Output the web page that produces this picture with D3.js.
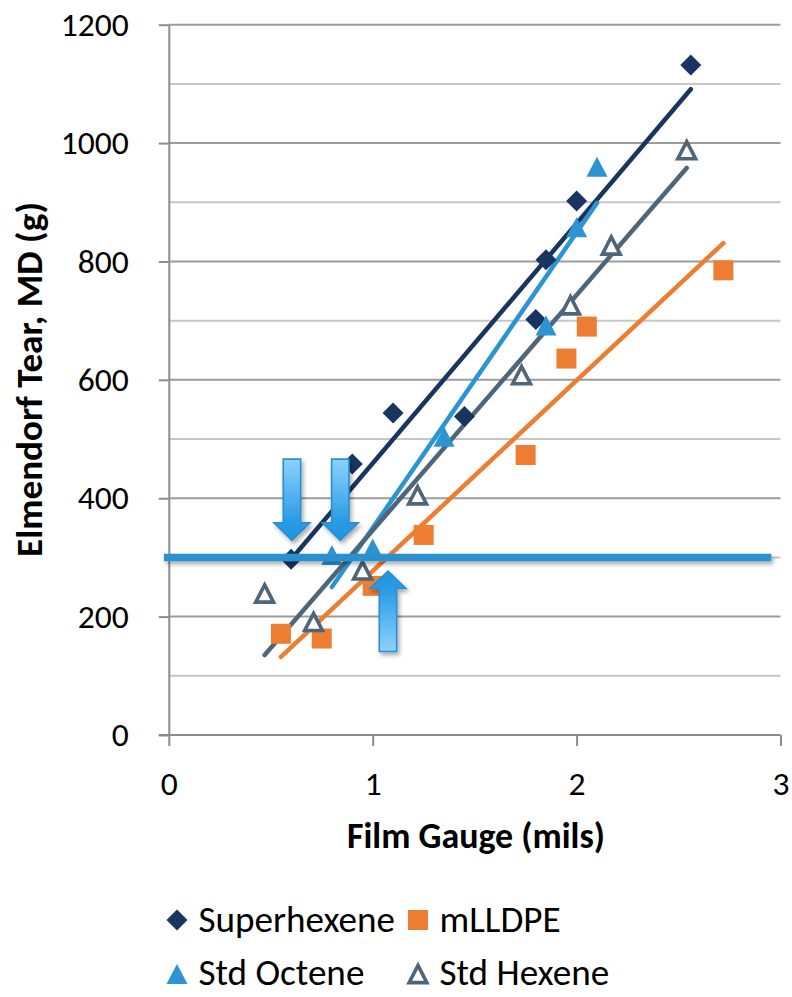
<!DOCTYPE html>
<html><head><meta charset="utf-8">
<script src="https://cdn.jsdelivr.net/npm/d3@7"></script>
<style>body{margin:0;background:#fff} svg{display:block}</style>
</head><body>
<svg id="c" width="792" height="997"></svg>
<script>
// ---------- data ----------
const xTicks = [0, 1, 2, 3];
const yTicks = [0, 200, 400, 600, 800, 1000, 1200];
const yGrid = [100, 200, 300, 400, 500, 600, 700, 800, 900, 1000, 1100, 1200];
const seriesNames = ["Superhexene", "mLLDPE", "Std Octene", "Std Hexene"];

const superX = [0.60, 0.90, 1.10, 1.45, 1.80, 1.85, 2.00, 2.56];
const superY = [297, 458, 544, 538, 702, 803, 902, 1132];
const mlldpeX = [0.55, 0.75, 1.00, 1.25, 1.75, 1.95, 2.05, 2.72];
const mlldpeY = [171, 163, 252, 338, 473, 636, 690, 785];
const octeneX = [0.80, 1.00, 1.35, 1.85, 2.00, 2.10];
const octeneY = [304, 315, 504, 692, 858, 960];
const hexeneX = [0.47, 0.71, 0.95, 1.22, 1.73, 1.97, 2.17, 2.54];
const hexeneY = [239, 191, 278, 405, 608, 726, 827, 988];

// linear trendline end points
const superTrendX = [0.60, 2.56],  superTrendY = [297, 1091];
const mlldpeTrendX = [0.55, 2.72], mlldpeTrendY = [132, 831];
const octeneTrendX = [0.80, 2.10], octeneTrendY = [250, 899];
const hexeneTrendX = [0.47, 2.54], hexeneTrendY = [135, 958];

// target line and arrows
const targetY = 300;
const targetX = [-0.024, 2.955];
const arrowX = [0.604, 0.841, 1.075];
const arrowFrom = [466, 466, 141];
const arrowTo = [329, 329, 277];

// ---------- setup ----------
const FONT = "Carlito, Calibri, Lato, 'Open Sans', sans-serif";
const svg = d3.select("#c");
const x = d3.scaleLinear().domain([0, 3]).range([168.8, 780.5]);
const y = d3.scaleLinear().domain([0, 1200]).range([735, 24.7]);

const colors = {"Superhexene": "#17355F", "mLLDPE": "#ED7D31", "Std Octene": "#2D94D4", "Std Hexene": "#4E6679"};

function fitSize(text, weight, target) {
  const t = svg.append("text").attr("font-family", FONT).attr("font-weight", weight)
    .attr("font-size", 100).text(text);
  const w = t.node().getComputedTextLength();
  t.remove();
  return 100 * target / w;
}

const defs = svg.append("defs");
const sh = defs.append("filter").attr("id", "sh").attr("filterUnits", "userSpaceOnUse")
  .attr("x", 0).attr("y", 0).attr("width", 792).attr("height", 997);
sh.append("feDropShadow").attr("dx", 2).attr("dy", 3).attr("stdDeviation", 2)
  .attr("flood-color", "#000").attr("flood-opacity", 0.33);

// ---------- gridlines ----------
svg.append("g").selectAll("line").data(yGrid).join("line")
  .attr("x1", x(0)).attr("x2", x(3))
  .attr("y1", d => y(d)).attr("y2", d => y(d))
  .attr("stroke", d => d % 200 === 0 ? "#9c9c9c" : "#c6c6c6")
  .attr("stroke-width", 2);

// ---------- axes ----------
const tickFont = fitSize("1200", 400, 68);
const yAxis = svg.append("g").attr("transform", `translate(${x(0)},0)`)
  .call(d3.axisLeft(y).tickValues(yTicks).tickSize(10).tickSizeOuter(0).tickPadding(30).tickFormat(d3.format("d")));
const xAxis = svg.append("g").attr("transform", `translate(0,${y(0)})`)
  .call(d3.axisBottom(x).tickValues(xTicks).tickSize(11).tickSizeOuter(0).tickPadding(25).tickFormat(d3.format("d")));
[yAxis, xAxis].forEach(a => {
  a.attr("font-family", FONT).attr("font-size", tickFont);
  a.selectAll(".domain").attr("stroke", "#8c8c8c").attr("stroke-width", 2);
  a.selectAll(".tick line").attr("stroke", "#8c8c8c").attr("stroke-width", 2);
  a.selectAll(".tick text").attr("fill", "#000");
});
xAxis.select(".domain").attr("d", `M${x(0) - 10},0H${x(3)}`);

// ---------- titles ----------
const xtSize = fitSize("Film Gauge (mils)", 700, 258);
svg.append("text").attr("x", 476).attr("y", 847.7).attr("text-anchor", "middle")
  .attr("font-family", FONT).attr("font-weight", 700).attr("font-size", xtSize)
  .text("Film Gauge (mils)");
const ytSize = fitSize("Elmendorf Tear, MD (g)", 700, 355);
svg.append("text").attr("transform", "translate(42,379.5) rotate(-90)").attr("text-anchor", "middle")
  .attr("font-family", FONT).attr("font-weight", 700).attr("font-size", ytSize)
  .text("Elmendorf Tear, MD (g)");

// ---------- markers ----------
function markerPath(name) {
  if (name === "Superhexene") return "M0,-10.5L10.5,0L0,10.5L-10.5,0Z";
  if (name === "mLLDPE") return "M-10,-10H10V10H-10Z";
  if (name === "Std Octene") return "M0,-10L10.5,10H-10.5Z";
  return "M0,-8.6L8.9,8.6H-8.9Z";
}
function styleMarker(sel, name) {
  if (name === "Std Hexene") sel.attr("fill", "#fff").attr("stroke", colors[name]).attr("stroke-width", 3.6).attr("stroke-linejoin", "miter");
  else sel.attr("fill", colors[name]);
}

const series = [
  {name: "Superhexene", xs: superX, ys: superY, tx: superTrendX, ty: superTrendY},
  {name: "mLLDPE", xs: mlldpeX, ys: mlldpeY, tx: mlldpeTrendX, ty: mlldpeTrendY},
  {name: "Std Octene", xs: octeneX, ys: octeneY, tx: octeneTrendX, ty: octeneTrendY},
  {name: "Std Hexene", xs: hexeneX, ys: hexeneY, tx: hexeneTrendX, ty: hexeneTrendY}
];

const line = d3.line().x(d => x(d[0])).y(d => y(d[1]));
const trendG = svg.append("g");
series.forEach(s => {
  trendG.append("path").datum(d3.zip(s.tx, s.ty)).attr("d", line)
    .attr("fill", "none").attr("stroke", colors[s.name]).attr("stroke-width", 4.5)
    .attr("stroke-linecap", "round");
});
const markG = svg.append("g");
series.forEach(s => {
  markG.append("g").selectAll("path").data(d3.zip(s.xs, s.ys)).join("path")
    .attr("d", markerPath(s.name))
    .attr("transform", d => `translate(${x(d[0])},${y(d[1])})`)
    .call(styleMarker, s.name);
});

// ---------- target line ----------
svg.append("line").attr("x1", x(targetX[0])).attr("x2", x(targetX[1]))
  .attr("y1", y(targetY)).attr("y2", y(targetY))
  .attr("stroke", "#2C91D1").attr("stroke-width", 7.5).attr("filter", "url(#sh)");

// ---------- arrows ----------
arrowX.forEach((ax, i) => {
  const cx = x(ax), y0 = y(arrowFrom[i]), y1 = y(arrowTo[i]);
  const dir = Math.sign(y1 - y0);
  const hw = 8.7, HW = 18, hl = 17.5;
  const yb = y1 - dir * hl;
  const gid = "ag" + i;
  const g = defs.append("linearGradient").attr("id", gid).attr("gradientUnits", "userSpaceOnUse")
    .attr("x1", cx).attr("x2", cx).attr("y1", y0).attr("y2", y1);
  g.append("stop").attr("offset", 0).attr("stop-color", "#8DD2FC");
  g.append("stop").attr("offset", 0.75).attr("stop-color", "#2C9CE6");
  g.append("stop").attr("offset", 1).attr("stop-color", "#1F93E0");
  svg.append("path")
    .attr("d", `M${cx - hw},${y0}L${cx + hw},${y0}L${cx + hw},${yb}L${cx + HW},${yb}L${cx},${y1}L${cx - HW},${yb}L${cx - hw},${yb}Z`)
    .attr("fill", `url(#${gid})`).attr("stroke", "#2A8ED3").attr("stroke-width", 1.6)
    .attr("stroke-linejoin", "miter").attr("filter", "url(#sh)");
});

// ---------- legend ----------
const legSize = fitSize("Superhexene", 400, 196.7);
const legX = [177, 418], legY = [920, 974], legBase = [931.5, 985];
seriesNames.forEach((n, i) => {
  const c = i % 2, r = Math.floor(i / 2);
  const p = svg.append("path").attr("d", markerPath(n))
    .attr("transform", `translate(${legX[c]},${legY[r]})`);
  styleMarker(p, n);
  svg.append("text").attr("x", legX[c] + 21.5).attr("y", legBase[r])
    .attr("font-family", FONT).attr("font-size", legSize).attr("fill", "#000").text(n);
});
</script>
</body></html>
